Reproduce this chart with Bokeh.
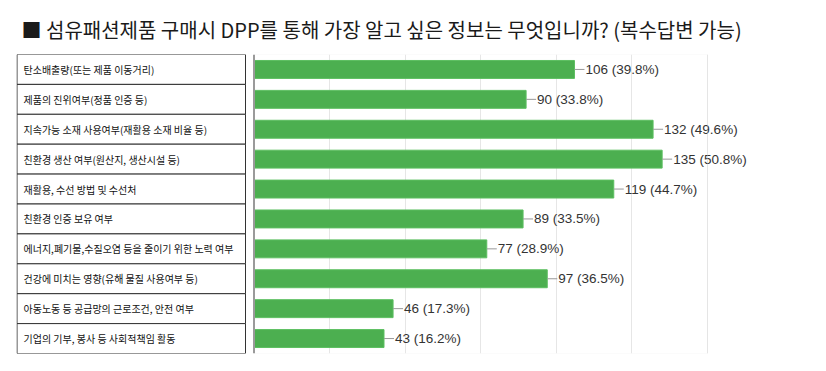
from bokeh.plotting import figure
from bokeh.models import FactorRange, Range1d, FixedTicker, Span, BoxAnnotation, ColumnDataSource
from bokeh.core.properties import value
from bokeh.embed import file_html
from bokeh.resources import INLINE

title_text = "■ 섬유패션제품 구매시 DPP를 통해 가장 알고 싶은 정보는 무엇입니까? (복수답변 가능)"
categories = [
    "탄소배출량(또는 제품 이동거리)",
    "제품의 진위여부(정품 인증 등)",
    "지속가능 소재 사용여부(재활용 소재 비율 등)",
    "친환경 생산 여부(원산지, 생산시설 등)",
    "재활용, 수선 방법 및 수선처",
    "친환경 인증 보유 여부",
    "에너지,폐기물,수질오염 등을 줄이기 위한 노력 여부",
    "건강에 미치는 영향(유해 물질 사용여부 등)",
    "아동노동 등 공급망의 근로조건, 안전 여부",
    "기업의 기부, 봉사 등 사회적책임 활동",
]
counts = [106, 90, 132, 135, 119, 89, 77, 97, 46, 43]
percents = [39.8, 33.8, 49.6, 50.8, 44.7, 33.5, 28.9, 36.5, 17.3, 16.2]
grid_ticks = [25, 50, 75, 100, 125, 150]
axis_max = 150

# layout (pixels)
W, H = 826, 371
frame_left_px, frame_right_px = 16, 826
zero_px = 253.5          # x pixel of value 0
axis_end_px = 707        # x pixel of axis_max
scale = (axis_end_px - zero_px) / axis_max


def px2x(px):
    return (px - zero_px) / scale


p = figure(
    width=W, height=H,
    y_range=FactorRange(factors=list(reversed(categories)), range_padding=0),
    x_range=Range1d(px2x(frame_left_px), px2x(frame_right_px)),
    output_backend="svg", toolbar_location=None,
    min_border_left=frame_left_px, min_border_right=W - frame_right_px,
    min_border_top=54, min_border_bottom=18,
)
p.xaxis.visible = False
p.yaxis.visible = False
p.outline_line_color = None
p.ygrid.grid_line_color = None
p.xgrid.ticker = FixedTicker(ticks=grid_ticks)
p.xgrid.grid_line_color = "#e6e6e6"
p.background_fill_color = "white"
p.border_fill_color = "white"

p.title.text = title_text
p.title.align = "left"
p.title.offset = 5
p.title.text_font = "Noto Sans CJK KR"
p.title.text_font_size = "20px"
p.title.text_font_style = "normal"
p.title.text_color = "#1a1a1a"
p.title.standoff = 21

# light frame around the bar area
p.add_layout(BoxAnnotation(left=0, right=axis_max, fill_alpha=0, line_color="#e6e6e6", line_width=1))

# table of category labels
tbl_left = px2x(16.5)
tbl_right = px2x(245)
src_tbl = ColumnDataSource(dict(cat=categories))
p.rect(x=(tbl_left + tbl_right) / 2, y="cat", width=tbl_right - tbl_left, height=1,
       source=src_tbl, fill_color="white", line_color="#333333", line_width=1)
p.text(x=px2x(23), y="cat", text="cat", source=src_tbl,
       text_font=value("Noto Sans CJK KR"), text_font_size="10px",
       text_baseline="middle", text_align="left", text_color="#111111")

# bars
labels = [f"{c} ({pc}%)" for c, pc in zip(counts, percents)]
src = ColumnDataSource(dict(cat=categories, count=counts, label=labels,
                            conn=[c + 10 / scale for c in counts]))
p.hbar(y="cat", left=0, right="count", height=0.6, source=src,
       fill_color="#4caf50", line_color="#5cbf60", line_width=1)
p.segment(x0="count", y0="cat", x1="conn", y1="cat", source=src,
          line_color="#999999", line_width=1)
p.text(x="conn", y="cat", text="label", source=src, x_offset=1,
       text_font=value("Liberation Sans"),
       text_font_size="13.5px", text_baseline="middle", text_align="left",
       text_color="#333333")

# value axis baseline
p.add_layout(Span(location=0, dimension="height", line_color="#9a9a9a", line_width=2))

open("out.html", "w").write(file_html(p, INLINE))
